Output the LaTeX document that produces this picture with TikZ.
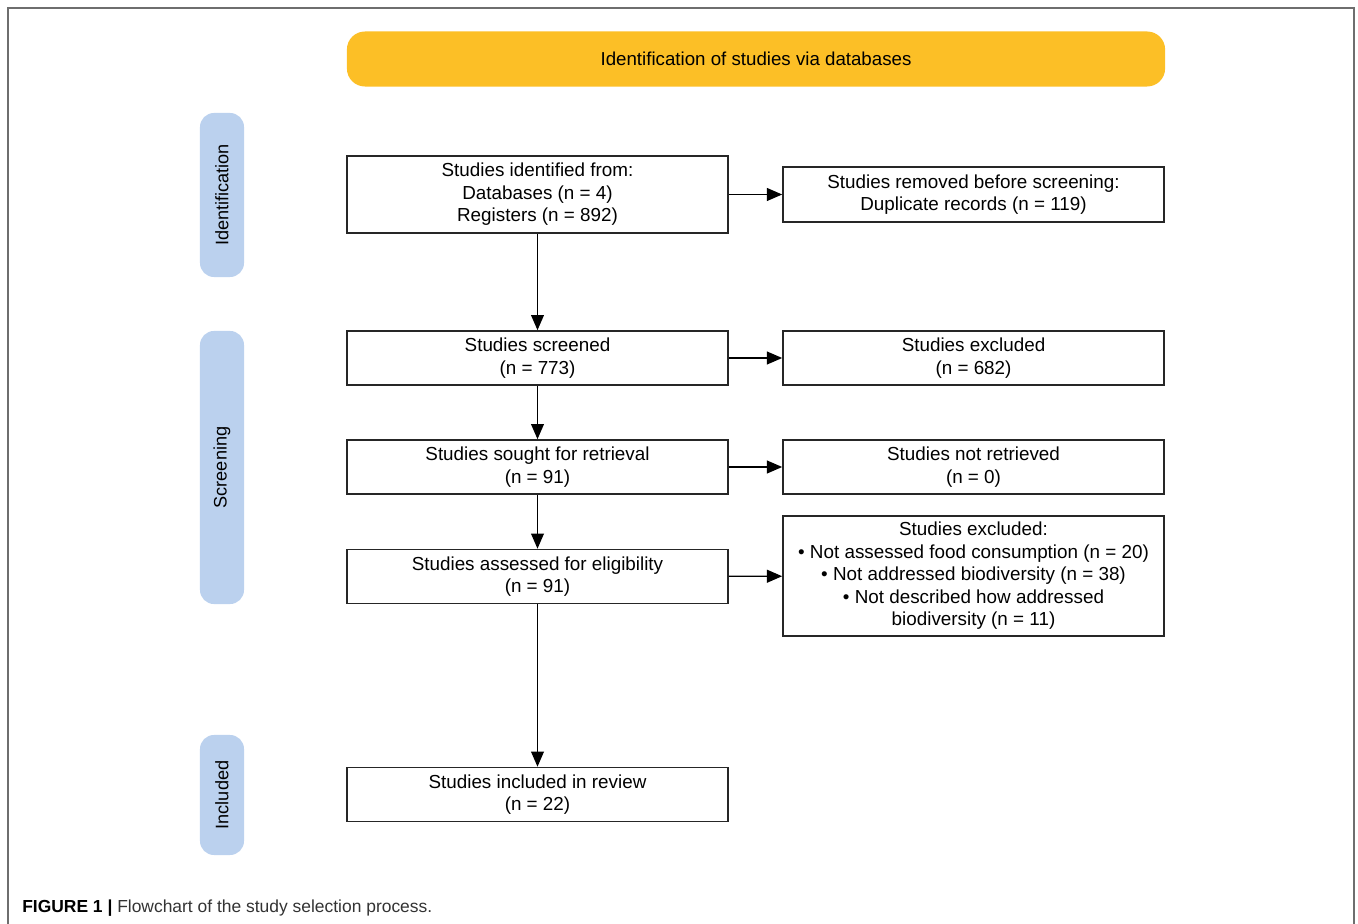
\documentclass[tikz,border=0pt]{standalone}
\usepackage{fontspec}
\setmainfont{Liberation Sans}
\usetikzlibrary{arrows.meta}
\definecolor{banner fill}{HTML}{FCBF26}
\definecolor{phase fill}{HTML}{BBD1EE}
\definecolor{frame edge}{HTML}{6E6E6E}
\colorlet{box edge}{black!85}
\tikzset{
  box/.style={draw=box edge, line width=1.1pt, rectangle, minimum width=9.525cm,
    inner sep=0pt, align=center, font=\fontsize{13.4}{16}\selectfont},
  phase/.style={fill=phase fill, rounded corners=0.35cm, rotate=90, minimum height=1.1cm,
    inner sep=0pt, font=\fontsize{12.9}{15}\selectfont},
  banner/.style={fill=banner fill, rounded corners=0.45cm, minimum width=20.45cm,
    minimum height=1.375cm, font=\fontsize{13.3}{15}\selectfont},
  flow/.style={line width=1pt, -{Triangle[length=0.38cm, width=0.32cm]}}
}

\begin{document}
\begin{tikzpicture}[x=0.025cm, y=-0.025cm]
  \useasboundingbox (0,0) rectangle (1358,924);
  \draw[frame edge, line width=1.4pt] (8,924) -- (8,8) -- (1354,8) -- (1354,924);

  \node[banner] (top) at (756,59) {Identification of studies via databases};

  % phases on the left
  \node[phase, minimum width=4.1cm] (ident) at (222,195) {Identification};
  \node[phase, minimum width=6.825cm] (screen) at (222,467.5) {Screening};
  \node[phase, minimum width=3cm] (incl) at (222,795) {Included};

  % main column
  \node[box, minimum height=1.925cm] (found) at (537.5,194.5)
    {Studies identified from:\\Databases (n = 4)\\Registers (n = 892)};
  \node[box, minimum height=1.35cm] (screened) at (537.5,358)
    {Studies screened\\(n = 773)};
  \node[box, minimum height=1.35cm] (sought) at (537.5,467)
    {Studies sought for retrieval\\(n = 91)};
  \node[box, minimum height=1.35cm] (assessed) at (537.5,576.5)
    {Studies assessed for eligibility\\(n = 91)};
  \node[box, minimum height=1.35cm] (included) at (537.5,794.5)
    {Studies included in review\\(n = 22)};

  % side column
  \node[box, minimum height=1.375cm] (removed) at (973.5,194.5)
    {Studies removed before screening:\\Duplicate records (n = 119)};
  \node[box, minimum height=1.35cm] (excluded) at (973.5,358)
    {Studies excluded\\(n = 682)};
  \node[box, minimum height=1.35cm] (notfound) at (973.5,467)
    {Studies not retrieved\\(n = 0)};
  \node[box, minimum height=3cm] (reasons) at (973.5,576)
    {Studies excluded:\\\textbullet{} Not assessed food consumption (n = 20)\\
     \textbullet{} Not addressed biodiversity (n = 38)\\
     \textbullet{} Not described how addressed\\biodiversity (n = 11)};

  \draw[flow] (found) -- (screened);
  \draw[flow] (screened) -- (sought);
  \draw[flow] (sought) -- (assessed);
  \draw[flow] (assessed) -- (included);

  \draw[flow] (found) -- (removed);
  \draw[flow] (screened) -- (excluded);
  \draw[flow] (sought) -- (notfound);
  \draw[flow] (assessed) -- (reasons);

  \node[anchor=base west, inner sep=0pt, font=\fontsize{12.4}{14}\selectfont] (caption) at (22,912)
    {\textbf{FIGURE 1 |} \textcolor{black!80}{Flowchart of the study selection process.}};
\end{tikzpicture}
\end{document}
